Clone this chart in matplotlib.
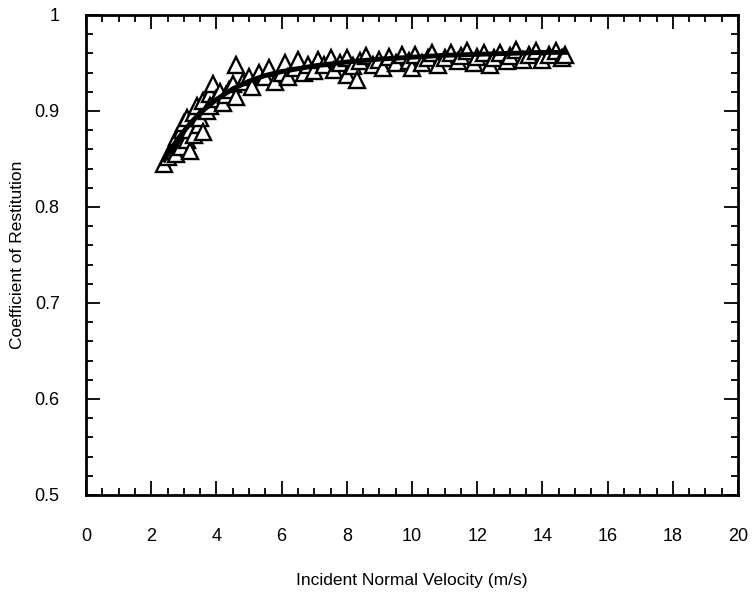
import matplotlib.pyplot as plt
from matplotlib.ticker import MultipleLocator, FormatStrFormatter

# measured restitution coefficients
vel = [2.4, 2.5, 2.6, 2.7, 2.75, 2.8, 2.9, 2.95, 3.0, 3.1, 3.1, 3.2, 3.2, 3.3, 3.3,
       3.4, 3.45, 3.5, 3.6, 3.6, 3.7, 3.8, 3.8, 3.9, 4.0, 4.1, 4.2, 4.3, 4.4, 4.5,
       4.6, 4.6, 4.8, 5.0, 5.1, 5.3, 5.5, 5.6, 5.8, 6.0, 6.1, 6.2, 6.4, 6.5, 6.7,
       6.8, 7.0, 7.1, 7.3, 7.5, 7.6, 7.8, 8.0, 8.0, 8.2, 8.3, 8.4, 8.6, 8.8, 9.0,
       9.1, 9.3, 9.5, 9.7, 9.9, 10.0, 10.1, 10.3, 10.5, 10.6, 10.8, 11.0, 11.2,
       11.4, 11.5, 11.7, 11.9, 12.0, 12.2, 12.4, 12.5, 12.7, 12.9, 13.0, 13.2,
       13.4, 13.6, 13.8, 14.0, 14.2, 14.4, 14.6, 14.7]
cor = [0.845, 0.852, 0.858, 0.866, 0.855, 0.873, 0.862, 0.880, 0.887, 0.870, 0.893,
       0.858, 0.880, 0.898, 0.875, 0.905, 0.885, 0.893, 0.910, 0.878, 0.900, 0.918,
       0.905, 0.928, 0.912, 0.920, 0.908, 0.917, 0.922, 0.928, 0.948, 0.915, 0.930,
       0.935, 0.925, 0.940, 0.935, 0.945, 0.930, 0.940, 0.950, 0.935, 0.945, 0.953,
       0.940, 0.948, 0.942, 0.953, 0.948, 0.955, 0.943, 0.950, 0.937, 0.955, 0.947,
       0.932, 0.952, 0.957, 0.948, 0.953, 0.945, 0.956, 0.950, 0.958, 0.952, 0.945,
       0.958, 0.950, 0.955, 0.960, 0.948, 0.955, 0.960, 0.952, 0.957, 0.962, 0.950,
       0.956, 0.960, 0.948, 0.955, 0.960, 0.952, 0.957, 0.963, 0.953, 0.958, 0.962,
       0.953, 0.958, 0.962, 0.955, 0.958]

# fitted curve
fit_v = [2.4, 2.6, 2.8, 3.0, 3.25, 3.5, 4.0, 4.5, 5.0, 5.5, 6.0, 7.0, 8.0, 9.0,
         10.0, 11.0, 12.0, 13.0, 14.0, 14.7]
fit_e = [0.849, 0.860, 0.870, 0.879, 0.889, 0.898, 0.912, 0.923, 0.931, 0.937,
         0.941, 0.947, 0.951, 0.954, 0.956, 0.958, 0.959, 0.960, 0.961, 0.961]

plt.rcParams["font.family"] = ["Liberation Sans", "DejaVu Sans"]

fig = plt.figure(figsize=(7.56, 5.92), dpi=100)
ax = fig.add_axes([0.1138, 0.1639, 0.8625, 0.8108])

ax.plot(vel, cor, linestyle="none", marker="^", markersize=11,
        markerfacecolor="white", markeredgecolor="black", markeredgewidth=1.7)
ax.plot(fit_v, fit_e, color="black", linewidth=3.5)

ax.set_xlim(0, 20)
ax.set_ylim(0.5, 1)
ax.xaxis.set_major_locator(MultipleLocator(2))
ax.xaxis.set_minor_locator(MultipleLocator(0.5))
ax.yaxis.set_major_locator(MultipleLocator(0.1))
ax.yaxis.set_minor_locator(MultipleLocator(0.02))
ax.yaxis.set_major_formatter(FormatStrFormatter("%g"))

ax.tick_params(which="both", direction="in", top=True, right=True, width=1.3)
ax.tick_params(which="major", length=10)
ax.tick_params(which="minor", length=5)
ax.tick_params(axis="x", pad=24, labelsize=13)
ax.tick_params(axis="y", pad=19, labelsize=13)

for sp in ax.spines.values():
    sp.set_linewidth(2)

ax.set_xlabel("Incident Normal Velocity (m/s)", fontsize=12.5)
ax.set_ylabel("Coefficient of Restitution", fontsize=12.5)
ax.xaxis.set_label_coords(0.5, -0.163)
ax.yaxis.set_label_coords(-0.094, 0.5)

plt.savefig("out.png", dpi=100)
